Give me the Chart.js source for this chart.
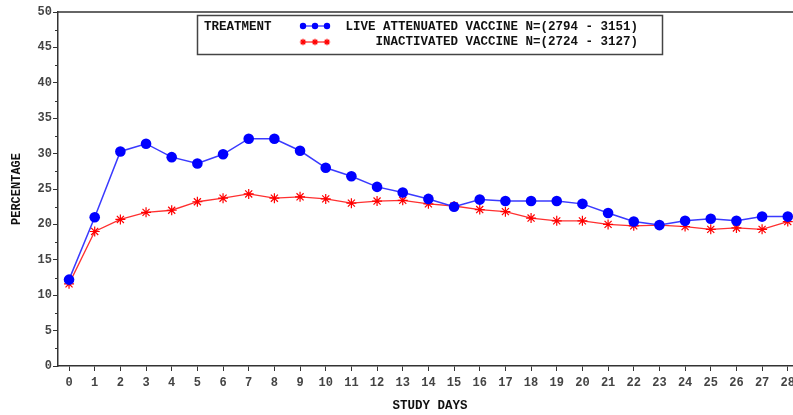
<!DOCTYPE html>
<html><head><meta charset="utf-8">
<script src="https://cdn.jsdelivr.net/npm/chart.js@4/dist/chart.umd.min.js"></script>
<style>html,body{margin:0;padding:0;background:#fff;overflow:hidden;width:793px;height:415px;}#c{display:block;}</style>
</head><body>
<canvas id="c" width="800" height="415"></canvas>
<script>
const days = [0,1,2,3,4,5,6,7,8,9,10,11,12,13,14,15,16,17,18,19,20,21,22,23,24,25,26,27,28];
const liveAttenuated = [12.2,21.0,30.3,31.4,29.5,28.6,29.9,32.1,32.1,30.4,28.0,26.8,25.3,24.5,23.6,22.5,23.5,23.3,23.3,23.3,22.9,21.6,20.4,19.9,20.5,20.8,20.5,21.1,21.1];
const inactivated = [11.6,19.0,20.7,21.7,22.0,23.2,23.7,24.3,23.7,23.9,23.6,23.0,23.3,23.4,22.9,22.6,22.1,21.8,20.9,20.5,20.5,20.0,19.8,19.9,19.7,19.3,19.5,19.3,20.4];
const yTicks = [0,5,10,15,20,25,30,35,40,45,50];
const legendTitle = 'TREATMENT';
const seriesNames = ['LIVE ATTENUATED VACCINE N=(2794 - 3151)','INACTIVATED VACCINE N=(2724 - 3127)'];
const xTitle = 'STUDY DAYS';
const yTitle = 'PERCENTAGE';

const FONT = '"Liberation Mono", "DejaVu Sans Mono", monospace';
const BLUE = '#0000ff', RED = '#ff0000';

const framePlugin = {
  id: 'frame',
  afterDraw(chart) {
    const ctx = chart.ctx, a = chart.chartArea, y = chart.scales.y;
    ctx.save();
    ctx.strokeStyle = '#333'; ctx.lineWidth = 1.5;
    ctx.beginPath(); ctx.moveTo(a.left, a.top); ctx.lineTo(chart.width, a.top); ctx.stroke();
    // minor ticks
    ctx.lineWidth = 1;
    for (let i = 0; i < yTicks.length - 1; i++) {
      const v = (yTicks[i] + yTicks[i+1]) / 2;
      const py = Math.round(y.getPixelForValue(v)) + 0.5;
      ctx.beginPath(); ctx.moveTo(a.left - 3, py); ctx.lineTo(a.left, py); ctx.stroke();
    }
    // legend box
    ctx.strokeStyle = '#444'; ctx.lineWidth = 1.5;
    ctx.strokeRect(197.5, 15.5, 465, 39);
    ctx.fillStyle = '#111';
    ctx.font = 'bold 12.5px ' + FONT;
    ctx.textBaseline = 'middle';
    ctx.textAlign = 'left';
    ctx.fillText(legendTitle, 204, 27);
    ctx.textAlign = 'right';
    ctx.fillText(seriesNames[0], 638, 27);
    ctx.fillText(seriesNames[1], 638, 42);
    // samples
    const ds = chart.data.datasets;
    [[26, 0], [42, 1]].forEach(([yy, k]) => {
      const d = ds[k];
      ctx.strokeStyle = d.borderColor; ctx.lineWidth = 1.3;
      ctx.beginPath(); ctx.moveTo(302, yy); ctx.lineTo(329, yy); ctx.stroke();
      ctx.fillStyle = d.pointBackgroundColor; ctx.strokeStyle = d.pointBorderColor;
      ctx.lineWidth = 1.2;
      [303, 315, 327].forEach(xx => {
        Chart.helpers.drawPoint(ctx, {pointStyle: d.pointStyle, radius: 3.2, borderWidth: k === 0 ? 0 : 1.2}, xx, yy);
      });
    });
    ctx.restore();
  }
};

new Chart(document.getElementById('c'), {
  type: 'line',
  data: {
    datasets: [
      {
        label: seriesNames[0],
        data: days.map((d, i) => ({x: d, y: liveAttenuated[i]})),
        borderColor: '#3a3aff', backgroundColor: BLUE,
        pointBackgroundColor: BLUE, pointBorderColor: BLUE,
        borderWidth: 1.5, pointStyle: 'circle', pointRadius: 5.3, pointBorderWidth: 0,
        tension: 0, clip: false
      },
      {
        label: seriesNames[1],
        data: days.map((d, i) => ({x: d, y: inactivated[i]})),
        borderColor: '#ff3030', backgroundColor: RED,
        pointBackgroundColor: RED, pointBorderColor: RED,
        borderWidth: 1.3, pointStyle: 'star', pointRadius: 5, pointBorderWidth: 1.2,
        tension: 0, clip: false
      }
    ]
  },
  options: {
    responsive: false, animation: false,
    layout: {padding: {top: 12, right: 0, left: 0, bottom: 0}},
    plugins: {legend: {display: false}, tooltip: {enabled: false}},
    scales: {
      x: {
        type: 'linear', min: -0.43, max: 28.17,
        afterFit(s) { s.height = 49; },
        afterBuildTicks(s) { s.ticks = days.map(v => ({value: v})); },
        grid: {drawOnChartArea: false, tickLength: 5, tickColor: '#333', tickWidth: 1},
        border: {color: '#333', width: 1.5},
        ticks: {font: {family: FONT, size: 12, weight: 'bold'}, color: '#444', padding: 5, maxRotation: 0, autoSkip: false},
        title: {display: false}
      },
      y: {
        min: 0, max: 50,
        afterFit(s) { s.width = 58; },
        afterBuildTicks(s) { s.ticks = yTicks.map(v => ({value: v})); },
        grid: {drawOnChartArea: false, tickLength: 5, tickColor: '#333', tickWidth: 1},
        border: {color: '#333', width: 1.5},
        ticks: {font: {family: FONT, size: 12, weight: 'bold'}, color: '#444', padding: 1},
        title: {display: true, text: yTitle, font: {family: FONT, size: 12, weight: 'bold'}, color: '#111', padding: {top: 10, bottom: 0}}
      }
    }
  },
  plugins: [framePlugin, {
    id: 'xtitle',
    afterDraw(chart) {
      const ctx = chart.ctx;
      ctx.save();
      ctx.font = 'bold 12.5px ' + FONT; ctx.fillStyle = '#111';
      ctx.textAlign = 'center'; ctx.textBaseline = 'middle';
      ctx.fillText(xTitle, 430, 406);
      ctx.restore();
    }
  }]
});
</script>
</body></html>
